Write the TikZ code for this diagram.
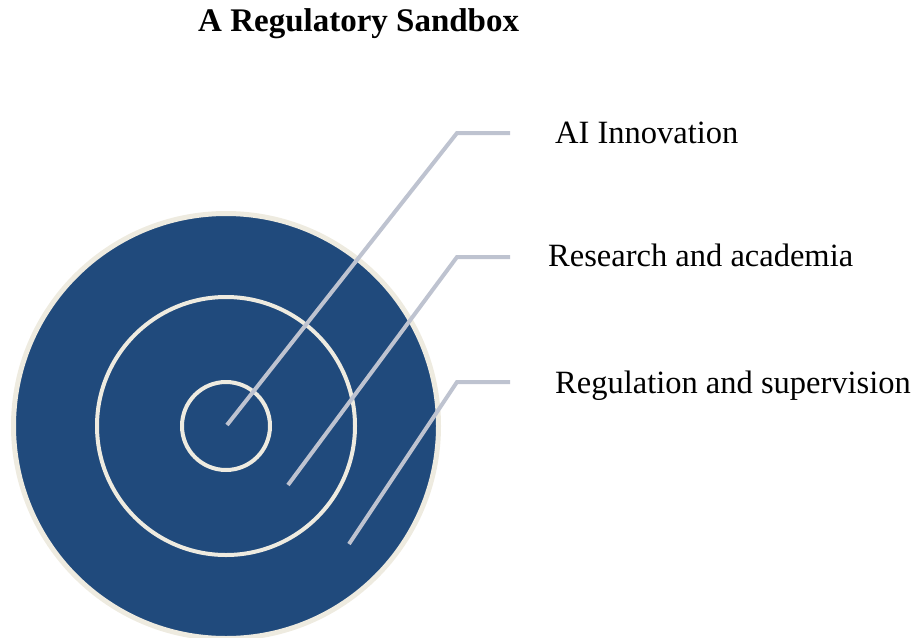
\documentclass[tikz,border=0pt]{standalone}
\usepackage{fontspec}
\setmainfont{Liberation Serif}
\definecolor{ringblue}{RGB}{32,74,124}
\definecolor{ringcream}{RGB}{238,235,224}
\definecolor{leadgray}{RGB}{190,195,208}
\begin{document}
\begin{tikzpicture}[x=1pt,y=-1pt,
  ring/.style={draw=ringcream,line width=4pt},
  leader/.style={draw=leadgray,line width=4pt,line join=miter},
  label/.style={anchor=base west,inner sep=0pt,font=\fontsize{32.5}{38}\selectfont},
  heading/.style={anchor=base west,inner sep=0pt,font=\fontsize{33}{39}\selectfont\bfseries}]
\useasboundingbox (0,0) rectangle (920,637);
% target rings
\fill[ringblue] (226,426) circle (212);
\draw[ringcream,line width=5pt] (226,426) circle (212.5);
\draw[ring] (226,426) circle (129);
\draw[ring] (226,426) circle (44);
% title
\node[heading] (title) at (198,31) {A Regulatory Sandbox};
% labels
\node[label] (ai) at (555,143) {AI Innovation};
\node[label] (res) at (548,266) {Research and academia};
\node[label] (reg) at (555,393) {Regulation and supervision};
% leader lines
\coordinate (p1) at (227,425);
\coordinate (c1) at (457,133);
\coordinate (e1) at (510,133);
\coordinate (p2) at (288,485);
\coordinate (c2) at (457,257);
\coordinate (e2) at (510,257);
\coordinate (p3) at (349,544);
\coordinate (c3) at (457,382);
\coordinate (e3) at (510,382);
\draw[leader] (p1) -- (c1) -- (e1);
\draw[leader] (p2) -- (c2) -- (e2);
\draw[leader] (p3) -- (c3) -- (e3);
\end{tikzpicture}
\end{document}
